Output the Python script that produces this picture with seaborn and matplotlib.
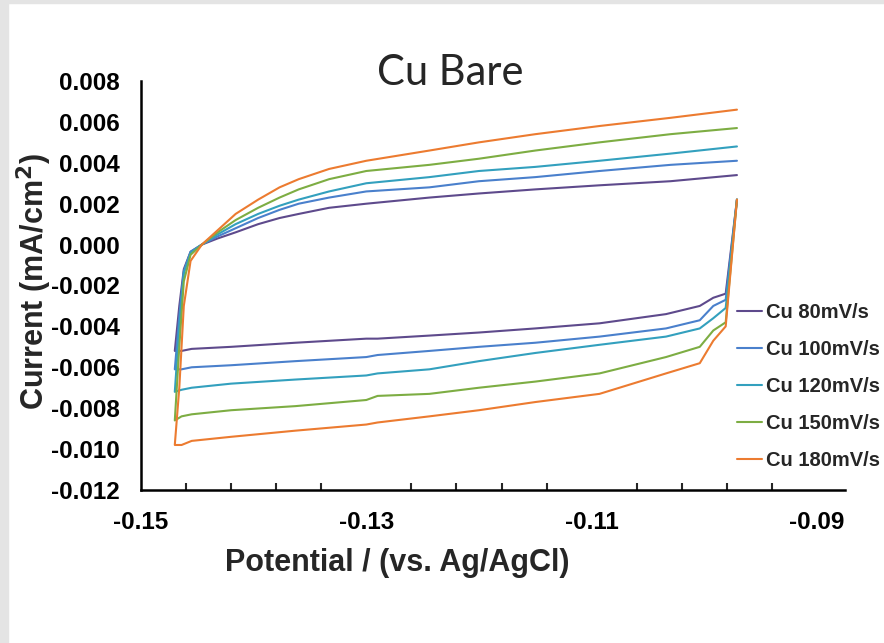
import numpy as np
import pandas as pd
import matplotlib
matplotlib.use("Agg")
import matplotlib.pyplot as plt
from matplotlib.patches import Rectangle
from matplotlib.ticker import FormatStrFormatter, FixedLocator, MultipleLocator
import seaborn as sns

# scan rates (legend order)
scans = ["Cu 80mV/s", "Cu 100mV/s", "Cu 120mV/s", "Cu 150mV/s", "Cu 180mV/s"]
colors = ["#5E4A8C", "#4A80CC", "#33A0BE", "#7DAD43", "#EC7B30"]

# reverse (cathodic) scan, right -> left, starting at the spike top
rev_potential = [-0.0971, -0.0981, -0.0992, -0.1004, -0.1034, -0.1093, -0.1150,
                 -0.1200, -0.1244, -0.1290, -0.1300, -0.1363, -0.1420, -0.1455,
                 -0.1464, -0.1470]
rev_80 = [0.0022, -0.0024, -0.0026, -0.0030, -0.0034, -0.00385, -0.0041,
          -0.0043, -0.00445, -0.0046, -0.0046, -0.0048, -0.0050, -0.0051,
          -0.0052, -0.0052]
rev_100 = [0.0022, -0.0027, -0.0030, -0.0037, -0.0041, -0.0045, -0.0048,
           -0.0050, -0.0052, -0.0054, -0.0055, -0.0057, -0.0059, -0.0060,
           -0.0061, -0.0061]
rev_120 = [0.0022, -0.0031, -0.0036, -0.0041, -0.0045, -0.0049, -0.0053,
           -0.0057, -0.0061, -0.0063, -0.0064, -0.0066, -0.0068, -0.0070,
           -0.0071, -0.0072]
rev_150 = [0.0022, -0.0038, -0.0042, -0.0050, -0.0055, -0.0063, -0.0067,
           -0.0070, -0.0073, -0.0074, -0.0076, -0.0079, -0.0081, -0.0083,
           -0.0084, -0.0086]
rev_180 = [0.0022, -0.0040, -0.0047, -0.0058, -0.0063, -0.0073, -0.0077,
           -0.0081, -0.0084, -0.0087, -0.0088, -0.0091, -0.0094, -0.0096,
           -0.0098, -0.0098]

# forward (anodic) scan, left -> right
fwd_potential = [-0.1466, -0.1462, -0.1456, -0.1446, -0.1432, -0.1416, -0.1396,
                 -0.1377, -0.1360, -0.1333, -0.1300, -0.1244, -0.1200, -0.1150,
                 -0.1093, -0.1030, -0.0971]
fwd_80 = [-0.0030, -0.0012, -0.00035, 0.0000, 0.0003, 0.0006, 0.0010, 0.0013,
          0.0015, 0.0018, 0.0020, 0.0023, 0.0025, 0.0027, 0.0029, 0.0031, 0.0034]
fwd_100 = [-0.0035, -0.0013, -0.00035, 0.0000, 0.0004, 0.0008, 0.0013, 0.0017,
           0.0020, 0.0023, 0.0026, 0.0028, 0.0031, 0.0033, 0.0036, 0.0039, 0.0041]
fwd_120 = [-0.0040, -0.0014, -0.0004, 0.0000, 0.0005, 0.0010, 0.0015, 0.0019,
           0.0022, 0.0026, 0.0030, 0.0033, 0.0036, 0.0038, 0.0041, 0.00445, 0.0048]
fwd_150 = [-0.0050, -0.0018, -0.0005, 0.0000, 0.0006, 0.0012, 0.0018, 0.0023,
           0.0027, 0.0032, 0.0036, 0.0039, 0.0042, 0.0046, 0.0050, 0.0054, 0.0057]
fwd_180 = [-0.0070, -0.0030, -0.0008, 0.0000, 0.0007, 0.0015, 0.0022, 0.0028,
           0.0032, 0.0037, 0.0041, 0.0046, 0.0050, 0.0054, 0.0058, 0.0062, 0.0066]

x_major = [-0.15, -0.13, -0.11, -0.09]

rev_all = [rev_80, rev_100, rev_120, rev_150, rev_180]
fwd_all = [fwd_80, fwd_100, fwd_120, fwd_150, fwd_180]

rows = []
for name, rev, fwd in zip(scans, rev_all, fwd_all):
    pts = list(zip(rev_potential, rev)) + list(zip(fwd_potential, fwd))
    for k, (e, i) in enumerate(pts):
        rows.append({"Potential": e, "Current": i, "Scan": name, "order": k})
df = pd.DataFrame(rows)

sns.set_style("white")
plt.rcParams["font.family"] = ["Liberation Sans", "DejaVu Sans"]

fig = plt.figure(figsize=(8.84, 6.43), dpi=100)
ax = fig.add_axes([0.1595, 0.238, 0.7965, 0.636])

sns.lineplot(data=df, x="Potential", y="Current", hue="Scan", hue_order=scans,
             palette=colors, sort=False, estimator=None, units="Scan",
             linewidth=1.5, ax=ax, legend=False)

ax.set_xlim(-0.15, -0.0875)
ax.set_ylim(-0.012, 0.008)
ax.xaxis.set_major_locator(FixedLocator(x_major))
ax.xaxis.set_minor_locator(FixedLocator(np.arange(-0.15, -0.0895, 0.004)))
ax.yaxis.set_major_locator(MultipleLocator(0.002))
ax.xaxis.set_major_formatter(FormatStrFormatter("%.2f"))
ax.yaxis.set_major_formatter(FormatStrFormatter("%.3f"))

for s in ["top", "right"]:
    ax.spines[s].set_visible(False)
for s in ["left", "bottom"]:
    ax.spines[s].set_color("black")
    ax.spines[s].set_linewidth(1.8)

ax.tick_params(axis="both", which="major", direction="in", length=7, width=1.5,
               labelsize=17.5, colors="black")
ax.tick_params(axis="x", which="minor", direction="in", length=5, width=1.5,
               bottom=True)
ax.tick_params(axis="y", which="major", length=6, pad=15)
ax.tick_params(axis="x", which="major", pad=15)
for lab in ax.get_xticklabels() + ax.get_yticklabels():
    lab.set_fontweight("bold")

ax.set_xlabel("Potential / (vs. Ag/AgCl)", fontsize=22, fontweight="bold")
ax.set_ylabel("Current (mA/cm$\\mathbf{^2}$)", fontsize=22, fontweight="bold")
ax.xaxis.set_label_coords(0.364, -0.142)
ax.yaxis.set_label_coords(-0.124, 0.51)

fig.text(0.509, 0.886, "Cu Bare", fontsize=30, family=["Lato", "DejaVu Sans"],
         ha="center", va="center")

handles = [plt.Line2D([], [], color=c, lw=1.5) for c in colors]
fig.legend(handles, scans, loc="center left", bbox_to_anchor=(0.834, 0.399),
           frameon=False, handlelength=1.25, handletextpad=0.2, labelspacing=0.9,
           borderpad=0, borderaxespad=0, prop={"weight": "bold", "size": 14.5})

# slide border strips
fig.patches.append(Rectangle((0, 0), 0.009, 1, transform=fig.transFigure,
                             color="#e4e4e4", zorder=-1))
fig.patches.append(Rectangle((0, 0.995), 1, 0.005, transform=fig.transFigure,
                             color="#e4e4e4", zorder=-1))

fig.savefig("out.png", dpi=100)
